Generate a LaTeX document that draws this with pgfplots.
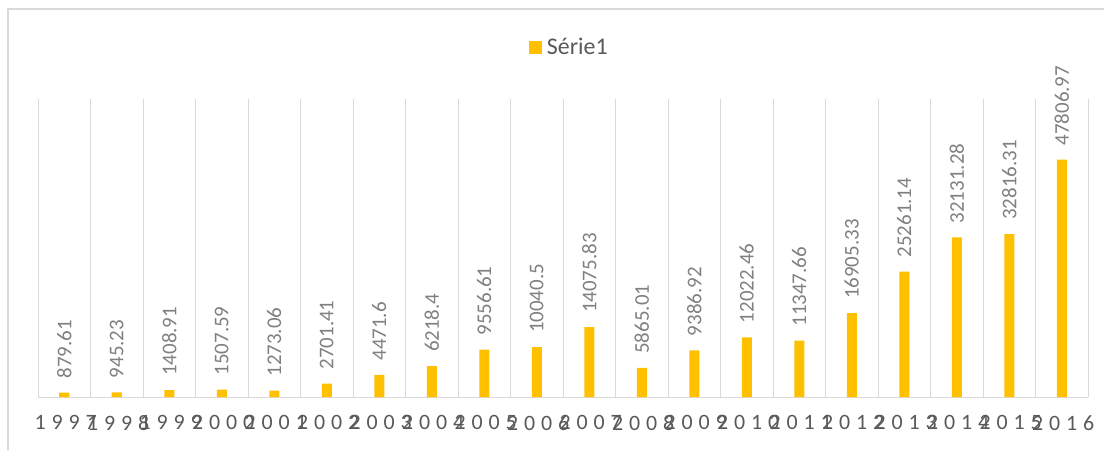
\documentclass[border=0pt]{standalone}
\usepackage{fontspec}
\setmainfont{Carlito}
\newfontfamily\yearfont[LetterSpace=27]{Carlito}
\usepackage{pgfplots}
\pgfplotsset{compat=1.18}
\usepackage{pgfplotstable}
\definecolor{barcol}{HTML}{FFC000}
\definecolor{gridc}{HTML}{D9D9D9}
\definecolor{labc}{HTML}{808080}
\definecolor{tickc}{HTML}{595959}
\pgfplotstableread{
x y lab
0 879.61 879.61
1 945.23 945.23
2 1408.91 1408.91
3 1507.59 1507.59
4 1273.06 1273.06
5 2701.41 2701.41
6 4471.6 4471.6
7 6218.4 6218.4
8 9556.61 9556.61
9 10040.5 10040.5
10 14075.83 14075.83
11 5865.01 5865.01
12 9386.92 9386.92
13 12022.46 12022.46
14 11347.66 11347.66
15 16905.33 16905.33
16 25261.14 25261.14
17 32131.28 32131.28
18 32816.31 32816.31
19 47806.97 47806.97
}\datatab
\begin{document}
\begin{tikzpicture}
\useasboundingbox (-38bp,-53bp) rectangle (1066bp,397bp);
\draw[gridc, line width=1.5bp] (-30bp,-60bp) -- (-30bp,388bp) -- (1080bp,388bp);
\begin{axis}[
  at={(0,0)}, anchor=south west,
  width=1050bp, height=298bp, scale only axis,
  xmin=-0.5, xmax=19.5, ymin=0, ymax=60000,
  axis x line*=bottom, axis y line=none,
  x axis line style={gridc, line width=1bp},
  ytick=\empty,
  xtick={0,...,19},
  xticklabels={1997,1998,1999,2000,2001,2002,2003,2004,2005,2006,2007,2008,2009,2010,2011,2012,2013,2014,2015,2016},
  major tick length=0pt, minor tick length=0pt,
  minor xtick={-0.5,0.5,1.5,2.5,3.5,4.5,5.5,6.5,7.5,8.5,9.5,10.5,11.5,12.5,13.5,14.5,15.5,16.5,17.5,18.5,19.5},
  xminorgrids, minor grid style={gridc, line width=1bp},
  xticklabel style={font=\yearfont\fontsize{22}{22}\selectfont, text=tickc, yshift=-15bp, xshift=1.5bp},
  ybar, bar width=10bp,
  clip=false,
  nodes near coords, point meta=explicit symbolic,
  nodes near coords style={yshift=11bp, rotate=90, anchor=west, font=\fontsize{21}{21}\selectfont, text=labc, inner xsep=3bp, inner ysep=0pt},
  legend style={at={(0.506,1.1745)}, anchor=center, draw=none, font=\fontsize{24}{24}\selectfont, text=tickc},
  legend image code/.code={\fill[barcol] (0bp,-6.5bp) rectangle (13bp,6.5bp);},
]
\addplot[fill=barcol, draw=none] table[x=x, y=y, meta=lab] {\datatab};
\addlegendentry{\hspace{3bp}Série1}
\end{axis}
\end{tikzpicture}
\end{document}
